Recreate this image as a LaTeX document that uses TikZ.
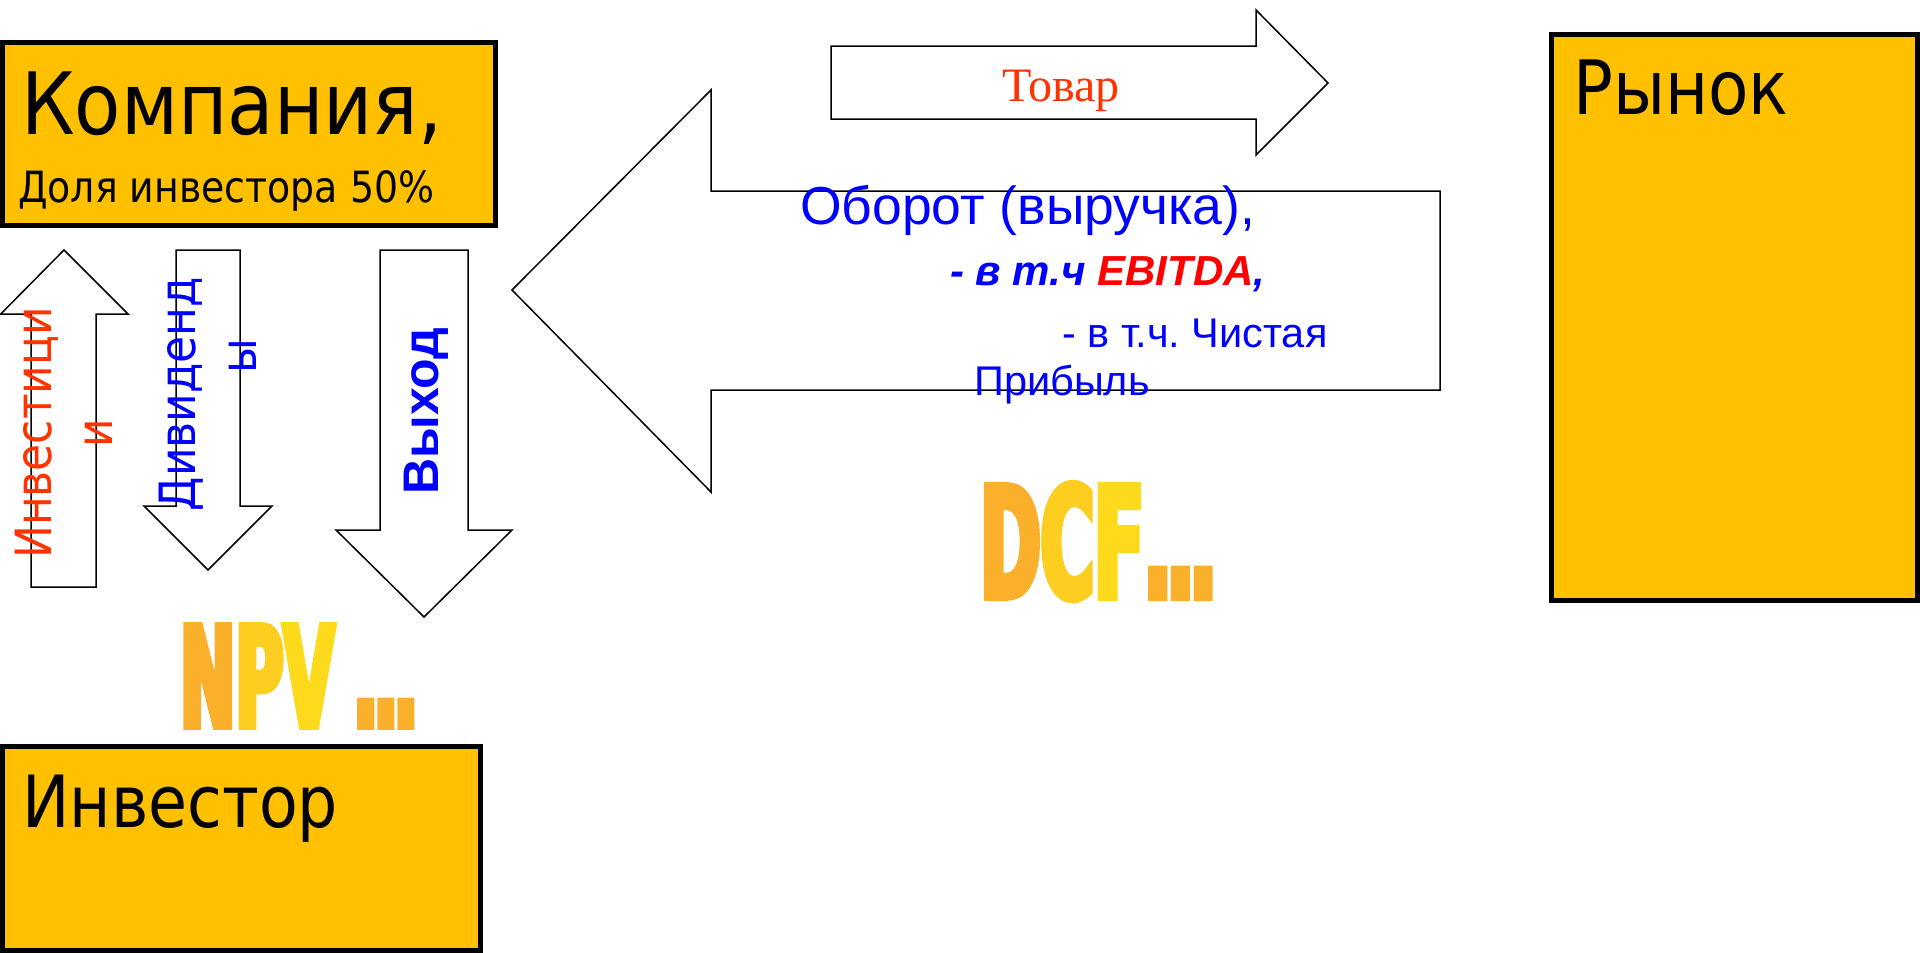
\documentclass[tikz,border=0pt]{standalone}
\usepackage{fontspec}
\setmainfont{DejaVu Sans}[FakeStretch=0.88]
\newfontfamily\arialfont{Liberation Sans}
\newfontfamily\timesfont{Liberation Serif}
\newfontfamily\impactfont{DejaVu Sans}[FakeStretch=0.47, FakeBold=4]
\definecolor{boxyellow}{HTML}{FFC000}
\definecolor{goodsred}{HTML}{FF3300}
\definecolor{ebitdared}{HTML}{FF0000}
\definecolor{goldA}{HTML}{FBB02C}
\definecolor{goldB}{HTML}{FDCD1F}
\definecolor{goldC}{HTML}{FDDA1B}
\frenchspacing
\begin{document}
\begin{tikzpicture}[x=1pt, y=-1pt,
    box/.style={draw, line width=5pt, fill=boxyellow},
    blockarrow/.style={draw, line width=1.5pt, fill=white},
    lbl/.style={inner sep=0pt}]
  \useasboundingbox (0,0) rectangle (1920,953);
  % Блоки
  \draw[box] (2.5,42.5) rectangle (495.5,225.5);
  \draw[box] (2.5,746.5) rectangle (480.5,950.5);
  \draw[box] (1551.5,34.5) rectangle (1917.5,600.5);
  \node[lbl, anchor=base west, font=\fontsize{86}{100}\selectfont] (company) at (21,134) {Компания,};
  \node[lbl, anchor=base west, font=\fontsize{43}{50}\selectfont] (share) at (18,202) {Доля инвестора 50\%};
  \node[lbl, anchor=base west, font=\fontsize{72}{90}\selectfont] (investor) at (22,827) {Инвестор};
  \node[lbl, anchor=base west, font=\fontsize{75}{90}\selectfont] (market) at (1573,114) {Рынок};
  % Стрелки
  \draw[blockarrow] (831,46) -- (1256,46) -- (1256,10) -- (1328,83) -- (1256,155) -- (1256,119) -- (831,119) -- cycle;
  \draw[blockarrow] (1440,191) -- (711,191) -- (711,90) -- (512,290) -- (711,492) -- (711,390) -- (1440,390) -- cycle;
  \draw[blockarrow] (31,587) -- (31,314) -- (0.75,314) -- (64,250) -- (128,314) -- (96,314) -- (96,587) -- cycle;
  \draw[blockarrow] (176,250) -- (240,250) -- (240,506) -- (272,506) -- (208,570) -- (144,506) -- (176,506) -- cycle;
  \draw[blockarrow] (380,250) -- (468,250) -- (468,530) -- (512,530) -- (424,617) -- (336,530) -- (380,530) -- cycle;
  \node[lbl, anchor=base, text=goodsred, font=\timesfont\fontsize{48}{58}\selectfont] (goods) at (1061,101) {Товар};
  \node[lbl, rotate=90, align=center, text=goodsred, font=\fontsize{50}{61}\selectfont] (invest) at (64,433) {Инвестици\\и};
  \node[lbl, rotate=90, align=left, text=blue, font=\fontsize{50}{61}\selectfont] (dividends) at (208,394) {Дивиденд\\\hspace*{138pt}ы};
  \node[lbl, rotate=90, text=blue, font=\arialfont\bfseries\fontsize{50}{60}\selectfont] (exit) at (426,411) {Выход};
  % Текст в большой стрелке
  \node[lbl, anchor=base west, text=blue, font=\arialfont\fontsize{53.5}{64}\selectfont] (turnover) at (800,224) {Оборот (выручка),};
  \node[lbl, anchor=base west, text=blue, font=\arialfont\bfseries\itshape\fontsize{42}{50}\selectfont] (ebitda) at (950,285) {- в т.ч \textcolor{ebitdared}{EBITDA},};
  \node[lbl, anchor=base west, text=blue, font=\arialfont\fontsize{41.5}{50}\selectfont] (netprofit) at (1062,347) {- в т.ч. Чистая};
  \node[lbl, anchor=base west, text=blue, font=\arialfont\fontsize{41.5}{50}\selectfont] (profit) at (974,395) {Прибыль};
  \node[lbl, anchor=base west, font=\impactfont\bfseries\fontsize{155}{155}\selectfont] (dcf) at (980,598)
    {\textcolor{goldA}{D}\textcolor{goldB}{C}\textcolor{goldC}{F}\textcolor{goldA}{.\kern-5pt.\kern-5pt.}};
  \node[lbl, anchor=base west, font=\impactfont\bfseries\fontsize{140}{140}\selectfont] (npv) at (180,727)
    {\textcolor{goldA}{N}\textcolor{goldB}{P}\textcolor{goldC}{V}\kern-4pt\ \textcolor{goldA}{.\kern-5pt.\kern-5pt.}};
\end{tikzpicture}
\end{document}
